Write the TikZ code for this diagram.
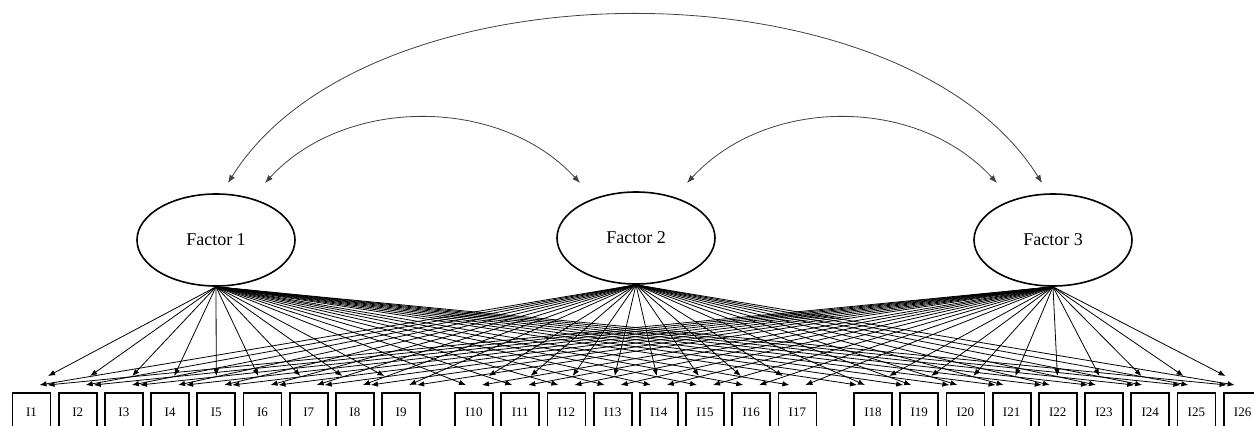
\documentclass[tikz,border=0pt]{standalone}
\usepackage{fontspec}
\setmainfont{Liberation Serif}
\usetikzlibrary{arrows.meta,shapes.geometric}
\begin{document}
\begin{tikzpicture}[x=1pt,y=-1pt,
  factor/.style={ellipse, draw, line width=1.6pt, minimum width=158pt, minimum height=92pt, inner sep=0pt, font=\fontsize{18}{20}\selectfont},
  item/.style={rectangle, draw, line width=1.8pt, minimum width=38pt, minimum height=38pt, inner sep=0pt, font=\fontsize{13}{15}\selectfont},
  load/.style={-{Latex[length=7pt,width=5.5pt]}, line width=0.8pt},
  cov/.style={{Latex[length=8pt,width=6pt]}-{Latex[length=8pt,width=6pt]}, line width=0.8pt, black!75}]
\useasboundingbox (0,0) rectangle (1254,426);

\node[factor] (F1) at (216,240) {Factor 1};
\node[factor] (F2) at (636,238) {Factor 2};
\node[factor] (F3) at (1053,240) {Factor 3};

\foreach \n/\bx in {1/31.5,2/77.7,3/123.9,4/170.1,5/216.3,6/262.5,7/308.7,8/354.9,9/401.1,10/474,11/520.2,12/566.4,13/612.6,14/658.8,15/705,16/751.2,17/797.4,18/873,19/919.2,20/965.4,21/1011.6,22/1057.8,23/1104,24/1150.2,25/1196.4,26/1242.6}
  \node[item] (i\n) at (\bx,412) {I\n};

\foreach \n/\bx/\g in {1/31.5/1,2/77.7/1,3/123.9/1,4/170.1/1,5/216.3/1,6/262.5/1,7/308.7/1,8/354.9/1,9/401.1/1,10/474/2,11/520.2/2,12/566.4/2,13/612.6/2,14/658.8/2,15/705/2,16/751.2/2,17/797.4/2,18/873/3,19/919.2/3,20/965.4/3,21/1011.6/3,22/1057.8/3,23/1104/3,24/1150.2/3,25/1196.4/3,26/1242.6/3}{
  \foreach \f/\fx in {1/216,2/636,3/1053}{
    \pgfmathsetmacro\d{\g-\f}
    \pgfmathsetmacro\ex{\d==0 ? \fx+0.91*(\bx-\fx) : \bx-8*\d}
    \pgfmathsetmacro\ey{\d==0 ? 376 : 385}
    \coordinate (e\f-\n) at (\ex,\ey);
    \draw[load] (F\f.south) -- (e\f-\n);
  }
}

\coordinate (a1) at (228,183);
\coordinate (b1) at (265,183);
\coordinate (b2) at (580,183);
\coordinate (c2) at (687,183);
\coordinate (c3) at (997,183);
\coordinate (a3) at (1042,183);
\draw[cov] (a1) .. controls +(140,-224) and +(-140,-224) .. (a3);
\draw[cov] (b1) .. controls +(80,-87) and +(-80,-87) .. (b2);
\draw[cov] (c2) .. controls +(80,-87) and +(-80,-87) .. (c3);
\end{tikzpicture}
\end{document}
